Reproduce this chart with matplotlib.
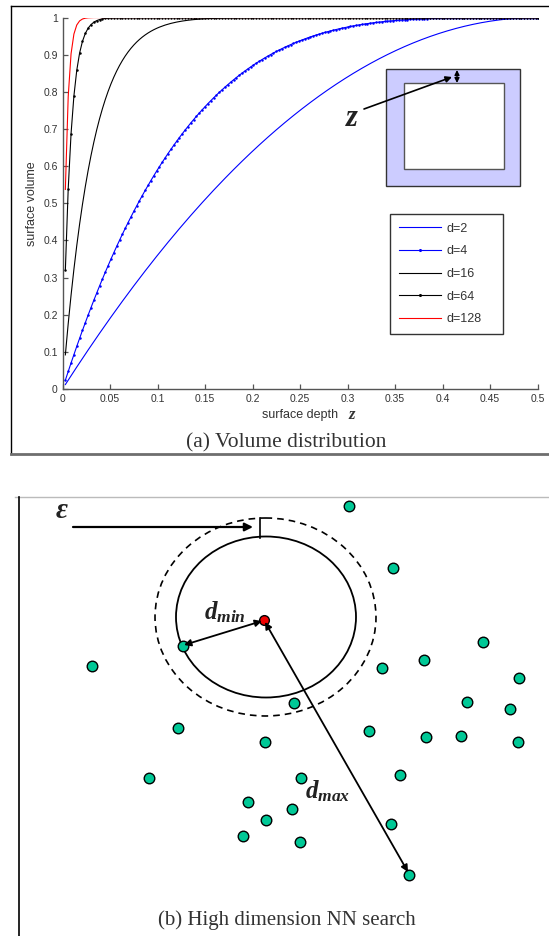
import numpy as np
import matplotlib
matplotlib.use("Agg")
import matplotlib.pyplot as plt
from matplotlib.patches import Rectangle, Ellipse, FancyArrowPatch
from matplotlib.lines import Line2D
from matplotlib.ticker import FixedLocator, FixedFormatter

plt.rcParams["mathtext.fontset"] = "custom"
plt.rcParams["mathtext.it"] = "Liberation Serif:italic:bold"
plt.rcParams["mathtext.rm"] = "Liberation Serif:bold"
plt.rcParams["mathtext.bf"] = "Liberation Serif:bold"

# ---- (a) volume distribution data ----
dims = [2, 4, 16, 64, 128]
series_labels = ["d=2", "d=4", "d=16", "d=64", "d=128"]
depth_step = 0.003
depth_max = 0.5
xtick_vals = [0, 0.05, 0.1, 0.15, 0.2, 0.25, 0.3, 0.35, 0.4, 0.45, 0.5]
xtick_labels = ["0", "0.05", "0.1", "0.15", "0.2", "0.25", "0.3", "0.35", "0.4", "0.45", "0.5"]
ytick_vals = [0, 0.1, 0.2, 0.3, 0.4, 0.5, 0.6, 0.7, 0.8, 0.9, 1.0]
ytick_labels = ["0", "0.1", "0.2", "0.3", "0.4", "0.5", "0.6", "0.7", "0.8", "0.9", "1"]

# ---- (b) nearest-neighbour sketch data (canvas pixel units) ----
pts_x = [349, 393, 92, 183, 483, 424, 382, 519, 294, 467, 510, 178, 369, 426,
         461, 518, 265, 149, 301, 400, 248, 292, 266, 391, 243, 300, 409]
pts_y = [506, 568, 666, 646, 642, 660, 668, 678, 703, 702, 709, 728, 731, 737,
         736, 742, 742, 778, 778, 775, 802, 809, 820, 824, 836, 842, 875]
query_x = [264]
query_y = [620]

W, H = 549, 936
fig = plt.figure(figsize=(W / 100, H / 100), dpi=100)


def fx(px):
    return px / W


def fy(py):
    return 1 - py / H


# ---------------- top plot ----------------
ax = fig.add_axes([fx(62.5), fy(389), (537.5 - 62.5) / W, (389 - 17.5) / H])
z = np.arange(1, int(round(depth_max / depth_step)) + 1) * depth_step
colors = ["#0000ff", "#0000ff", "#000000", "#000000", "#ff0000"]
markers = [None, ".", None, ".", None]
for d, lab, c, m in zip(dims, series_labels, colors, markers):
    # fraction of a unit d-cube lying within depth z of its surface
    vol = 1 - (1 - 2 * z) ** d
    ax.plot(z, vol, color=c, lw=0.8, marker=m, ms=1.6, label=lab)

ax.set_xlim(0, 0.5)
ax.set_ylim(0, 1)
ax.xaxis.set_major_locator(FixedLocator(xtick_vals))
ax.xaxis.set_major_formatter(FixedFormatter(xtick_labels))
ax.yaxis.set_major_locator(FixedLocator(ytick_vals))
ax.yaxis.set_major_formatter(FixedFormatter(ytick_labels))
for s in ["top", "right"]:
    ax.spines[s].set_visible(False)
for s in ["left", "bottom"]:
    ax.spines[s].set_color("#555555")
    ax.spines[s].set_linewidth(1.0)
ax.tick_params(direction="in", length=3.5, width=0.9, color="#555555",
               labelsize=7.5, labelcolor="#333333", pad=3.5)
for t in ax.get_xticklabels() + ax.get_yticklabels():
    t.set_fontfamily("Liberation Sans")
ax.set_ylabel("surface volume", fontsize=9, color="#333333",
              fontfamily="Liberation Sans", labelpad=4)
ax.set_xlabel("surface depth", fontsize=9, color="#333333",
              fontfamily="Liberation Sans", labelpad=4)

leg = ax.legend(loc="upper left",
                bbox_to_anchor=(fx(390), fy(214) - 0.01, (503 - 390) / W, 0.01),
                bbox_transform=fig.transFigure, mode="expand",
                prop={"family": "Liberation Sans", "size": 9},
                frameon=True, fancybox=False, edgecolor="black",
                handlelength=3.4, handletextpad=0.4, labelspacing=0.85,
                borderpad=0.7, borderaxespad=0, numpoints=1, markerscale=1.5)
leg.get_frame().set_linewidth(1.0)
for t in leg.get_texts():
    t.set_color("#333333")

# ---------------- overlay canvas ----------------
cv = fig.add_axes([0, 0, 1, 1], facecolor="none")
cv.set_xlim(0, W)
cv.set_ylim(H, 0)
cv.axis("off")


def seg(x0, y0, x1, y1, **kw):
    cv.add_line(Line2D([x0, x1], [y0, y1], clip_on=False, **kw))


def arrow(p0, p1, style="-|>", lw=1.3, ms=10):
    cv.add_patch(FancyArrowPatch(p0, p1, arrowstyle=style, mutation_scale=ms,
                                 lw=lw, color="black", shrinkA=0, shrinkB=0,
                                 clip_on=False, zorder=5))


# italic depth symbol on the x axis
cv.text(352, 415, "z", fontsize=12, fontfamily="Liberation Serif",
        fontstyle="italic", fontweight="bold", color="#333333",
        ha="center", va="center")

# frame around panel (a)
seg(11, 6, 560, 6, color="black", lw=1.0)
seg(11, 6, 11, 454, color="black", lw=1.0)
seg(11, 454, 560, 454, color="#6e6e6e", lw=2.0)

# cube illustration
cv.add_patch(Rectangle((386, 69), 134, 117, facecolor="#ccccff",
                       edgecolor="#333333", lw=1.0))
cv.add_patch(Rectangle((403.5, 83), 100.5, 86, facecolor="white",
                       edgecolor="#555555", lw=1.0))
arrow((457, 70), (457, 83), style="<|-|>", lw=1.0, ms=7)
arrow((364, 109), (452, 77), lw=1.2, ms=9)
cv.text(352, 118, "z", fontsize=22, fontfamily="Liberation Serif",
        fontstyle="italic", fontweight="bold", color="#222222",
        ha="center", va="center")

cv.text(286, 443, "(a) Volume distribution", fontsize=15.5,
        fontfamily="Liberation Serif", color="#333333",
        ha="center", va="center")

# ---------------- panel (b) ----------------
seg(15, 497, 549, 497, color="#bbbbbb", lw=1.0)
seg(19, 497, 19, 936, color="black", lw=1.2)

cv.add_patch(Ellipse((266, 617), 180, 161, fill=False, edgecolor="black", lw=1.3))
cv.add_patch(Ellipse((265.5, 617), 221, 198, fill=False, edgecolor="black",
                     lw=1.2, linestyle=(0, (4, 3))))

cv.plot(pts_x, pts_y, "o", ms=7.6, mfc="#00c896", mec="black", mew=1.0,
        zorder=4)
cv.plot(query_x, query_y, "o", ms=7.0, mfc="#ee0000", mec="black", mew=1.0,
        zorder=4)

arrow((73, 527), (253, 527), lw=1.6, ms=12)
seg(260, 518, 260, 538, color="black", lw=1.2)
cv.text(62, 510, "ε", fontsize=21, fontfamily="Liberation Serif",
        fontstyle="italic", fontweight="bold", color="#222222",
        ha="center", va="center")

arrow((184, 645), (262, 621), style="<|-|>", lw=1.3, ms=10)
arrow((265, 622), (408, 872), style="<|-|>", lw=1.3, ms=10)

cv.text(204, 619, r"$d_{min}$", fontsize=18, color="#222222",
        ha="left", va="baseline")
cv.text(305, 798, r"$d_{max}$", fontsize=18, color="#222222",
        ha="left", va="baseline")

cv.text(287, 920, "(b) High dimension NN search", fontsize=15,
        fontfamily="Liberation Serif", color="#333333",
        ha="center", va="center")

fig.savefig("out.png", dpi=100)
